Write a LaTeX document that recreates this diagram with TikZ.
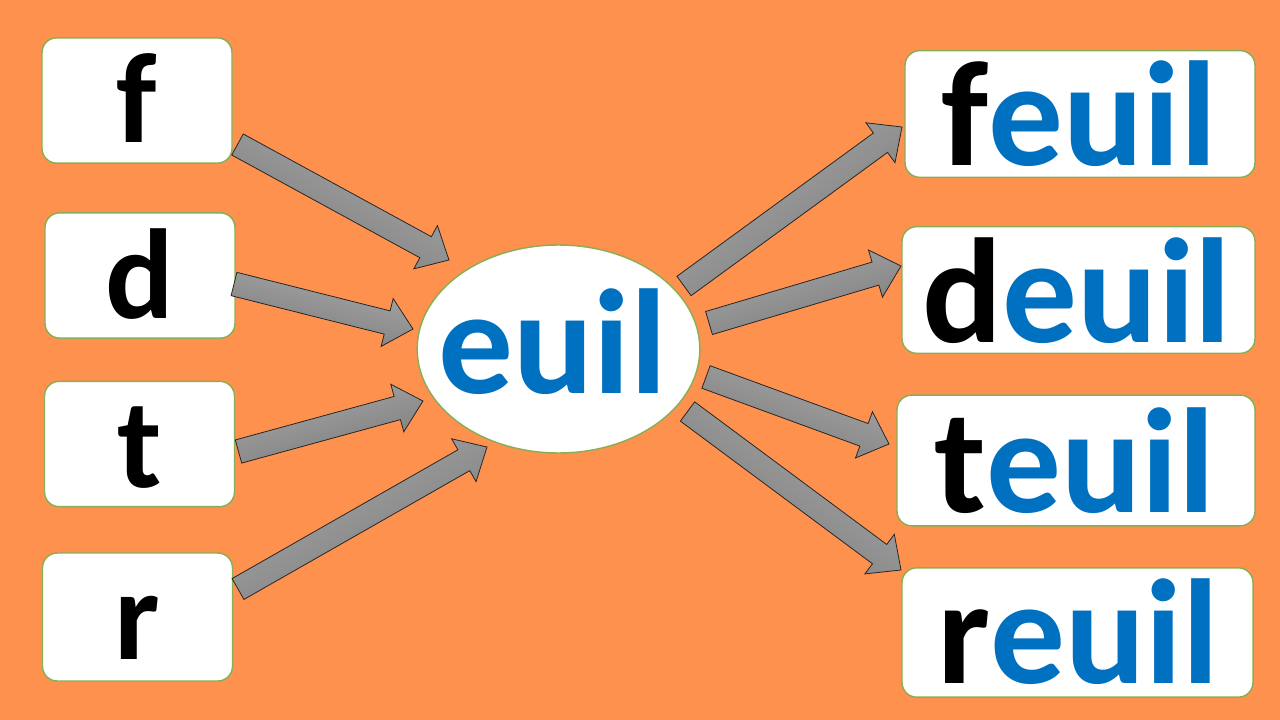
\documentclass[tikz,border=0pt]{standalone}
\usepackage{fontspec}
\setmainfont{Carlito}
\usetikzlibrary{calc,shapes.geometric}
\definecolor{bg}{HTML}{FF914F}
\definecolor{bord}{HTML}{8AAE55}
\definecolor{wblue}{HTML}{0070C0}
\definecolor{arrlight}{HTML}{A9A9A9}
\definecolor{arrdark}{HTML}{7A7A7A}
\tikzset{
  card/.style={draw=bord, line width=1.1pt, fill=white, rounded corners=11pt, inner sep=0pt},
  smallcard/.style={card, minimum width=142.5pt, minimum height=94pt},
  bigcard/.style={card, minimum height=95pt},
  oval/.style={ellipse, draw=bord, line width=1.1pt, fill=white, inner sep=0pt, minimum width=212pt, minimum height=156pt},
  letter/.style={anchor=base, inner sep=0pt, font=\fontsize{96}{96}\selectfont\bfseries},
  word/.style={anchor=base, inner sep=0pt, font=\fontsize{112}{112}\selectfont\bfseries},
  arrowbody/.style={draw=black!85, line width=0.6pt, top color=arrlight, bottom color=arrdark}
}
\newcommand\blockarr[2]{%
  \pgfmathanglebetweenpoints{\pgfpointanchor{#1}{center}}{\pgfpointanchor{#2}{center}}%
  \let\arrang\pgfmathresult
  \shadedraw[arrowbody, shading angle=\arrang]
    ($(#1)!9pt!90:(#2)$) --
    ($($(#2)!20pt!(#1)$)!9pt!90:(#2)$) --
    ($($(#2)!20pt!(#1)$)!18.5pt!90:(#2)$) --
    (#2) --
    ($($(#2)!20pt!(#1)$)!18.5pt!-90:(#2)$) --
    ($($(#2)!20pt!(#1)$)!9pt!-90:(#2)$) --
    ($(#1)!9pt!-90:(#2)$) -- cycle;
}
\begin{document}
\begin{tikzpicture}[x=0.75pt,y=-0.75pt]
  \fill[bg] (0,0) rectangle (1280,720);
  \useasboundingbox (0,0) rectangle (1280,720);

  % left cards
  \node[smallcard] (f) at (137,100.5) {};
  \node[smallcard] (d) at (140,275.5) {};
  \node[smallcard] (t) at (139.5,444) {};
  \node[smallcard, minimum height=96pt] (r) at (137.5,617) {};
  \node[letter] (ftxt) at (137,143) {f};
  \node[letter] (dtxt) at (140,318) {d};
  \node[letter] (ttxt) at (139.5,487) {t};
  \node[letter] (rtxt) at (137.5,659) {r};

  % centre
  \node[oval] (euil) at (558.5,349) {};
  \node[word, text=wblue] (euiltxt) at (553,393) {euil};

  % right cards
  \node[bigcard, minimum width=262.5pt] (feuil) at (1080,114) {};
  \node[bigcard, minimum width=264.75pt] (deuil) at (1078.5,290) {};
  \node[bigcard, minimum width=268.5pt, minimum height=98pt] (teuil) at (1076,460.5) {};
  \node[bigcard, minimum width=263.25pt, minimum height=97pt] (reuil) at (1077.5,632.5) {};
  \node[word] (feuiltxt) at (1079,166) {f\textcolor{wblue}{euil}};
  \node[word] (deuiltxt) at (1077,342) {d\textcolor{wblue}{euil}};
  \node[word] (teuiltxt) at (1075,512) {t\textcolor{wblue}{euil}};
  \node[word] (reuiltxt) at (1078,683) {r\textcolor{wblue}{euil}};

  % arrow ends
  \coordinate (a1s) at (237.5,144.5); \coordinate (a1e) at (449,260);
  \coordinate (a2s) at (234,284);     \coordinate (a2e) at (413,329);
  \coordinate (a3s) at (238.5,451.5); \coordinate (a3e) at (423,401);
  \coordinate (a4s) at (238,589);     \coordinate (a4e) at (487,447);
  \coordinate (a5s) at (684,286);     \coordinate (a5e) at (902,127);
  \coordinate (a6s) at (709,323);     \coordinate (a6e) at (901,266);
  \coordinate (a7s) at (706,377);     \coordinate (a7e) at (889,444);
  \coordinate (a8s) at (687.5,411.5); \coordinate (a8e) at (901,570);

  \blockarr{a1s}{a1e}
  \blockarr{a2s}{a2e}
  \blockarr{a3s}{a3e}
  \blockarr{a4s}{a4e}
  \blockarr{a5s}{a5e}
  \blockarr{a6s}{a6e}
  \blockarr{a7s}{a7e}
  \blockarr{a8s}{a8e}
\end{tikzpicture}
\end{document}
